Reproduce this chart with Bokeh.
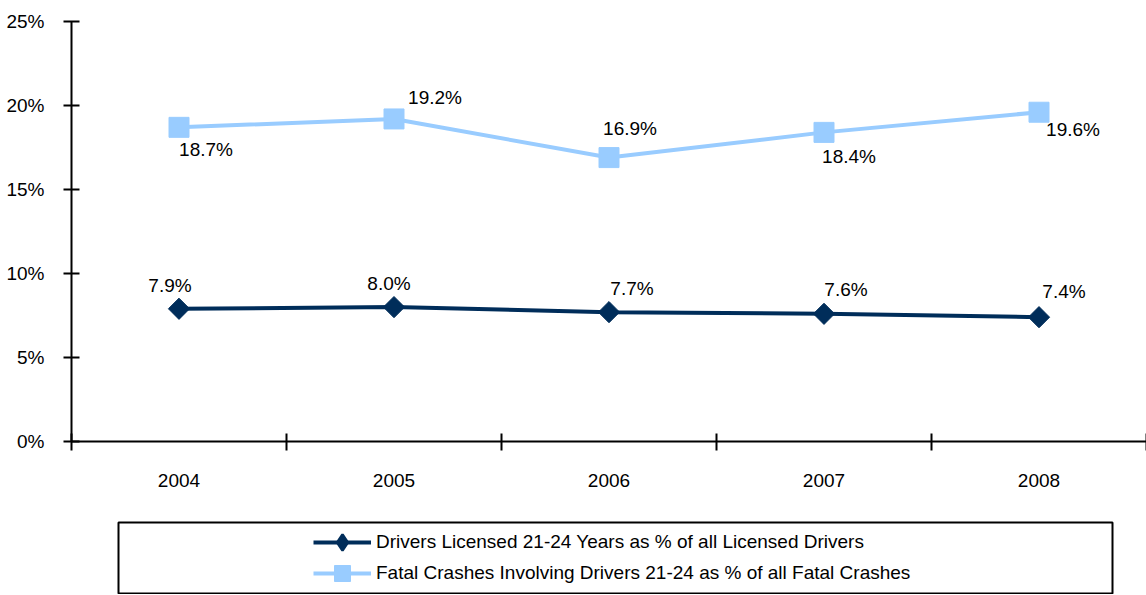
from bokeh.plotting import figure
from bokeh.models import (Range1d, FixedTicker, PrintfTickFormatter, ColumnDataSource,
                          Legend, LegendItem)
from bokeh.embed import file_html
from bokeh.resources import INLINE
from bokeh.core.properties import value
import math

# ---------------- data ----------------
years = ["2004", "2005", "2006", "2007", "2008"]
licensed_pct = [7.9, 8.0, 7.7, 7.6, 7.4]
fatal_pct = [18.7, 19.2, 16.9, 18.4, 19.6]
y_ticks = [0, 5, 10, 15, 20, 25]
licensed_name = "Drivers Licensed 21-24 Years as % of all Licensed Drivers"
fatal_name = "Fatal Crashes Involving Drivers 21-24 as % of all Fatal Crashes"

# ---------------- styles ----------------
FONT = "Liberation Sans"
FS = "19px"
DARK = "#002D5A"
LIGHT = "#99CCFF"
# per-label pixel offsets (screen units)
licensed_dx = [-9, -5, 23, 22, 25]
licensed_dy = [-23, -24, -24, -24, -26]
fatal_dx = [27, 41, 21, 25, 34]
fatal_dy = [22, -21, -29, 24, 17]

xs = [i + 0.5 for i in range(len(years))]

p = figure(width=1146, height=521, output_backend="svg", toolbar_location=None,
           x_range=Range1d(0, len(years)), y_range=Range1d(0, 25),
           min_border_left=71, min_border_right=0, min_border_top=21, min_border_bottom=80)
p.outline_line_color = None
p.grid.visible = False
p.background_fill_color = "white"

# y axis
ya = p.yaxis[0]
ya.ticker = FixedTicker(ticks=y_ticks, minor_ticks=[])
ya.formatter = PrintfTickFormatter(format="%d%%")
ya.major_tick_in = 8
ya.major_tick_out = 8
ya.minor_tick_in = 0
ya.minor_tick_out = 0
ya.major_label_standoff = 19
ya.axis_line_width = 2
ya.major_tick_line_width = 2
ya.axis_line_color = "black"
ya.major_tick_line_color = "black"
ya.major_label_text_font = FONT
ya.major_label_text_font_size = FS
ya.major_label_text_color = "black"

# x axis: labels at centres, tick marks at category boundaries (minor ticks)
xa = p.xaxis[0]
xa.ticker = FixedTicker(ticks=xs, minor_ticks=list(range(len(years) + 1)))
xa.major_label_overrides = {x: y for x, y in zip(xs, years)}
xa.major_tick_in = 0
xa.major_tick_out = 0
xa.minor_tick_in = 8
xa.minor_tick_out = 9
xa.minor_tick_line_width = 2
xa.minor_tick_line_color = "black"
xa.axis_line_width = 2
xa.axis_line_color = "black"
xa.major_label_standoff = 23
xa.major_label_text_font = FONT
xa.major_label_text_font_size = FS
xa.major_label_text_color = "black"

src_l = ColumnDataSource(dict(x=xs, y=licensed_pct,
                              t=[f"{v:.1f}%" for v in licensed_pct],
                              dx=licensed_dx, dy=licensed_dy))
src_f = ColumnDataSource(dict(x=xs, y=fatal_pct,
                              t=[f"{v:.1f}%" for v in fatal_pct],
                              dx=fatal_dx, dy=fatal_dy))

p.line("x", "y", source=src_f, line_color=LIGHT, line_width=4)
p.scatter("x", "y", source=src_f, marker="square", size=20,
          fill_color=LIGHT, line_color=LIGHT)
p.line("x", "y", source=src_l, line_color=DARK, line_width=4)
p.scatter("x", "y", source=src_l, marker="square", size=15, angle=math.pi / 4,
          fill_color=DARK, line_color=DARK)

for s in (src_l, src_f):
    p.text("x", "y", text="t", source=s, x_offset="dx", y_offset="dy",
           text_font=value(FONT), text_font_size=FS, text_color="black",
           text_align="center", text_baseline="middle")

# ---------------- legend panel (separate root, boxed) ----------------
p2 = figure(width=1146, height=73, output_backend="svg", toolbar_location=None,
            x_range=Range1d(100, 101), y_range=Range1d(100, 101),
            x_axis_location=None, y_axis_location=None,
            min_border_left=118, min_border_right=34, min_border_top=1, min_border_bottom=1)
p2.grid.visible = False
p2.outline_line_color = "black"
p2.outline_line_width = 2

# legend renderers share the data; the panel's ranges keep the marks out of view
l1 = p2.line("x", "y", source=src_l, line_color=DARK, line_width=4)
m1 = p2.scatter("x", "y", source=src_l, marker="diamond",
                fill_color=DARK, line_color=DARK, line_width=2.5)
l2 = p2.line("x", "y", source=src_f, line_color=LIGHT, line_width=4)
m2 = p2.scatter("x", "y", source=src_f, marker="square", fill_color=LIGHT, line_color=LIGHT)

legend_style = dict(orientation="vertical", border_line_alpha=0, background_fill_alpha=0,
                    glyph_width=58, glyph_height=40, label_height=24, spacing=0,
                    label_standoff=5, padding=0, margin=0,
                    label_text_font=FONT, label_text_font_size=FS, label_text_color="black")
leg1 = Legend(items=[LegendItem(label=licensed_name, renderers=[l1, m1])],
              location=(195, 31), **legend_style)
leg2 = Legend(items=[LegendItem(label=fatal_name, renderers=[l2, m2])],
              location=(195, 0), **legend_style)
p2.add_layout(leg1)
p2.add_layout(leg2)

open("out.html", "w").write(file_html([p, p2], INLINE))
